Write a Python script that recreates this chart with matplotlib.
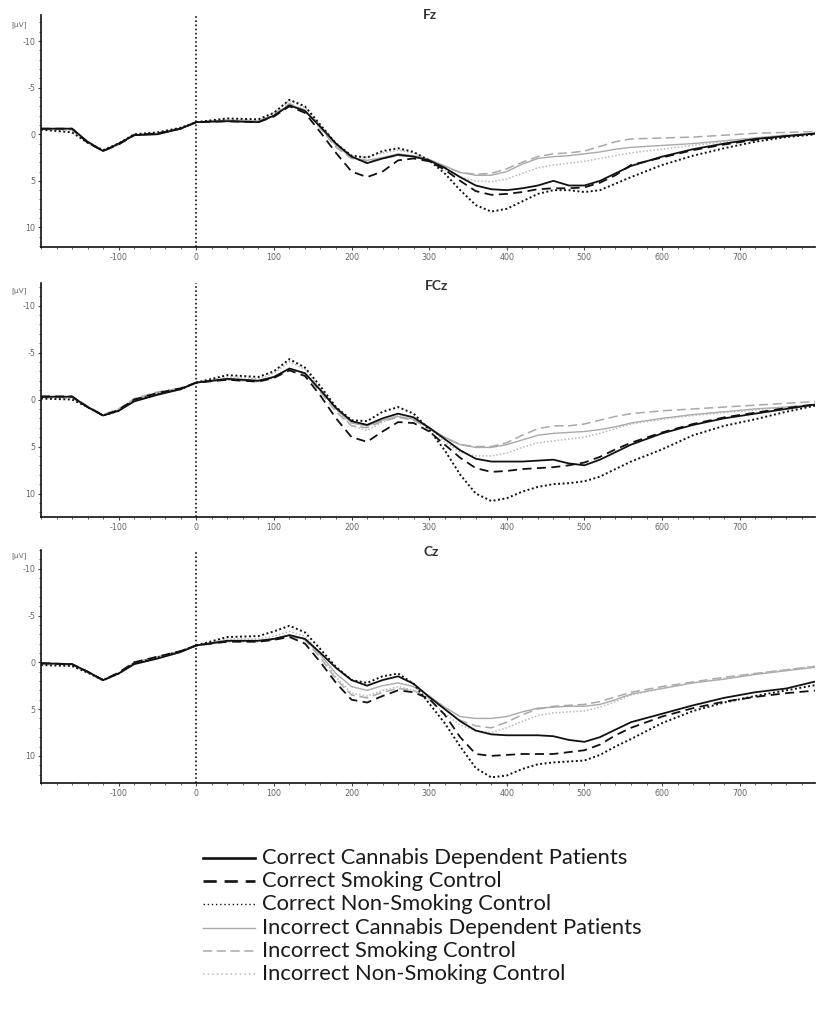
import matplotlib
matplotlib.use("Agg")
import matplotlib.pyplot as plt
from matplotlib.lines import Line2D
from matplotlib.ticker import MultipleLocator

# ---------------- data ----------------
time_ms = [-200, -160, -140, -120, -100, -80, -50, -20, 0, 40, 80, 100, 120,
           140, 160, 180, 200, 220, 240, 260, 280, 300, 320, 340, 360, 380, 400,
           420, 440, 460, 480, 500, 520, 540, 560, 600, 640, 680, 720, 760, 800]

channels = ["Fz", "FCz", "Cz"]
series_labels = ["Correct Cannabis Dependent Patients", "Correct Smoking Control",
                 "Correct Non-Smoking Control", "Incorrect Cannabis Dependent Patients",
                 "Incorrect Smoking Control", "Incorrect Non-Smoking Control"]

# Fz
fz_c_cdp = [-0.6, -0.6, 0.8, 1.8, 1.0, 0.1, 0.0, -0.6, -1.3, -1.4, -1.3, -2.0, -3.1,
            -2.5, -0.8, 1.0, 2.4, 3.1, 2.6, 2.2, 2.4, 2.8, 3.6, 4.6, 5.5, 5.9, 6.0,
            5.8, 5.5, 5.0, 5.5, 5.5, 5.0, 4.2, 3.4, 2.4, 1.6, 1.0, 0.5, 0.2, -0.1]
fz_c_sc = [-0.6, -0.6, 0.9, 1.8, 1.1, 0.1, -0.1, -0.6, -1.3, -1.4, -1.3, -1.9, -3.0,
           -2.3, -0.2, 2.0, 4.0, 4.6, 4.0, 2.8, 2.6, 2.9, 3.8, 5.0, 6.1, 6.5, 6.4,
           6.2, 5.9, 5.8, 5.8, 5.7, 5.2, 4.4, 3.3, 2.5, 1.7, 1.1, 0.6, 0.2, -0.1]
fz_c_nsc = [-0.5, -0.2, 0.9, 1.7, 1.0, 0.0, -0.2, -0.7, -1.3, -1.7, -1.6, -2.3, -3.7,
            -3.0, -1.0, 1.0, 2.3, 2.5, 1.8, 1.5, 1.9, 2.8, 4.2, 6.0, 7.6, 8.3, 8.0,
            7.2, 6.4, 6.0, 6.0, 6.2, 6.0, 5.3, 4.6, 3.3, 2.3, 1.5, 0.8, 0.3, 0.0]
fz_i_cdp = [-0.6, -0.6, 0.8, 1.8, 1.1, 0.1, 0.0, -0.6, -1.3, -1.5, -1.4, -2.0, -3.2,
            -2.6, -0.7, 1.2, 2.5, 2.8, 2.5, 2.1, 2.3, 2.7, 3.4, 4.1, 4.4, 4.4, 4.0,
            3.2, 2.6, 2.4, 2.3, 2.1, 1.9, 1.6, 1.4, 1.2, 1.0, 0.7, 0.4, 0.1, -0.1]
fz_i_sc = [-0.6, -0.5, 0.9, 1.8, 1.0, 0.0, -0.1, -0.7, -1.3, -1.5, -1.4, -2.1, -3.3,
           -2.6, -0.6, 1.4, 2.6, 2.9, 2.6, 2.3, 2.4, 2.8, 3.5, 4.1, 4.3, 4.2, 3.7,
           3.0, 2.4, 2.1, 2.0, 1.8, 1.3, 0.8, 0.5, 0.4, 0.3, 0.1, -0.1, -0.2, -0.3]
fz_i_nsc = [-0.5, -0.4, 0.9, 1.8, 1.1, 0.1, -0.1, -0.6, -1.3, -1.6, -1.5, -2.3, -3.6,
            -2.9, -0.9, 1.1, 2.3, 2.5, 2.0, 1.7, 2.0, 2.8, 3.8, 4.6, 5.0, 5.1, 4.8,
            4.2, 3.6, 3.3, 3.1, 2.9, 2.6, 2.3, 2.0, 1.6, 1.2, 0.8, 0.4, 0.1, -0.1]

# FCz
fcz_c_cdp = [-0.3, -0.3, 0.8, 1.7, 1.2, 0.2, -0.5, -1.1, -1.8, -2.2, -2.0, -2.4, -3.3,
             -2.8, -1.0, 0.9, 2.3, 2.7, 2.0, 1.5, 1.9, 3.0, 4.2, 5.4, 6.3, 6.6, 6.6,
             6.6, 6.5, 6.4, 6.8, 7.0, 6.4, 5.6, 4.8, 3.6, 2.7, 2.0, 1.5, 1.0, 0.5]
fcz_c_sc = [-0.3, -0.3, 0.8, 1.7, 1.1, 0.0, -0.7, -1.2, -1.8, -2.1, -1.9, -2.3, -3.1,
            -2.5, -0.4, 2.0, 4.0, 4.5, 3.4, 2.4, 2.5, 3.4, 4.8, 6.2, 7.3, 7.7, 7.6,
            7.4, 7.3, 7.2, 7.0, 6.7, 6.1, 5.3, 4.6, 3.5, 2.6, 1.9, 1.4, 0.9, 0.5]
fcz_c_nsc = [-0.1, 0.0, 0.8, 1.7, 1.2, 0.1, -0.6, -1.1, -1.8, -2.6, -2.4, -3.0, -4.3,
             -3.4, -1.4, 0.8, 2.2, 2.3, 1.3, 0.8, 1.5, 3.2, 5.4, 8.0, 10.0, 10.8, 10.5,
             9.8, 9.3, 9.0, 8.9, 8.7, 8.2, 7.4, 6.6, 5.3, 3.8, 2.8, 2.1, 1.3, 0.6]
fcz_i_cdp = [-0.3, -0.3, 0.8, 1.7, 1.2, 0.1, -0.6, -1.1, -1.8, -2.2, -2.0, -2.4, -3.3,
             -2.8, -1.0, 1.0, 2.5, 2.8, 2.2, 1.8, 2.1, 3.0, 4.0, 4.8, 5.1, 5.1, 4.8,
             4.3, 3.8, 3.6, 3.5, 3.4, 3.2, 2.9, 2.5, 2.0, 1.6, 1.3, 1.0, 0.8, 0.5]
fcz_i_sc = [-0.4, -0.4, 0.7, 1.6, 1.0, -0.1, -0.8, -1.2, -1.8, -2.1, -1.9, -2.3, -3.2,
            -2.7, -0.8, 1.3, 2.8, 3.0, 2.3, 1.9, 2.2, 3.1, 4.1, 4.8, 5.0, 5.0, 4.6,
            3.8, 3.1, 2.8, 2.8, 2.6, 2.2, 1.8, 1.5, 1.2, 1.0, 0.8, 0.6, 0.4, 0.2]
fcz_i_nsc = [-0.2, -0.1, 0.8, 1.7, 1.1, 0.1, -0.6, -1.1, -1.8, -2.4, -2.2, -2.8, -4.0,
             -3.2, -1.2, 1.0, 2.8, 3.3, 2.4, 1.6, 1.9, 3.0, 4.5, 5.6, 6.0, 6.0, 5.7,
             5.1, 4.6, 4.4, 4.2, 4.0, 3.6, 3.1, 2.6, 2.1, 1.7, 1.4, 1.1, 0.8, 0.5]

# Cz
cz_c_cdp = [0.1, 0.2, 1.0, 1.9, 1.2, 0.2, -0.4, -1.1, -1.8, -2.3, -2.3, -2.5, -2.9,
            -2.5, -1.0, 0.6, 1.9, 2.5, 1.9, 1.5, 2.3, 3.7, 5.0, 6.3, 7.3, 7.7, 7.8,
            7.8, 7.8, 7.9, 8.3, 8.5, 8.0, 7.2, 6.4, 5.5, 4.6, 3.8, 3.2, 2.8, 2.0]
cz_c_sc = [0.1, 0.2, 1.0, 1.9, 1.1, 0.0, -0.6, -1.2, -1.8, -2.2, -2.2, -2.4, -2.7,
           -2.0, 0.0, 2.2, 4.0, 4.3, 3.6, 3.0, 3.2, 3.9, 5.6, 8.0, 9.8, 10.0, 9.9,
           9.8, 9.8, 9.8, 9.6, 9.4, 8.8, 7.8, 7.0, 5.8, 4.9, 4.2, 3.7, 3.3, 3.0]
cz_c_nsc = [0.3, 0.4, 1.1, 1.9, 1.2, 0.1, -0.5, -1.2, -1.8, -2.7, -2.8, -3.3, -3.9,
            -3.2, -1.4, 0.5, 1.9, 2.2, 1.5, 1.2, 2.3, 4.4, 6.5, 9.0, 11.3, 12.3, 12.1,
            11.4, 10.9, 10.7, 10.6, 10.5, 9.9, 9.0, 8.2, 6.5, 5.2, 4.3, 3.6, 3.0, 2.4]
cz_i_cdp = [0.1, 0.2, 1.0, 1.9, 1.2, 0.2, -0.4, -1.1, -1.8, -2.3, -2.3, -2.5, -2.9,
            -2.5, -0.8, 1.2, 2.6, 3.0, 2.5, 2.2, 2.6, 3.6, 4.8, 5.8, 6.0, 6.0, 5.8,
            5.3, 4.9, 4.8, 4.7, 4.7, 4.5, 4.0, 3.4, 2.8, 2.2, 1.8, 1.3, 0.9, 0.5]
cz_i_sc = [0.2, 0.2, 1.1, 2.0, 1.2, 0.0, -0.6, -1.2, -1.8, -2.2, -2.2, -2.4, -2.8,
           -2.4, -0.5, 1.8, 3.5, 3.8, 3.2, 2.8, 3.0, 3.8, 5.0, 6.2, 6.8, 7.0, 6.4,
           5.6, 5.0, 4.7, 4.6, 4.5, 4.2, 3.7, 3.2, 2.6, 2.1, 1.6, 1.2, 0.8, 0.4]
cz_i_nsc = [0.2, 0.3, 1.1, 1.9, 1.2, 0.1, -0.5, -1.1, -1.8, -2.5, -2.5, -2.8, -3.3,
            -2.8, -0.9, 1.6, 3.3, 3.6, 3.0, 2.6, 3.0, 4.0, 5.5, 6.7, 7.3, 7.5, 7.0,
            6.3, 5.7, 5.4, 5.3, 5.2, 4.8, 4.2, 3.5, 2.8, 2.2, 1.7, 1.2, 0.8, 0.4]

panel_series = [
    [fz_c_cdp, fz_c_sc, fz_c_nsc, fz_i_cdp, fz_i_sc, fz_i_nsc],
    [fcz_c_cdp, fcz_c_sc, fcz_c_nsc, fcz_i_cdp, fcz_i_sc, fcz_i_nsc],
    [cz_c_cdp, cz_c_sc, cz_c_nsc, cz_i_cdp, cz_i_sc, cz_i_nsc],
]

x_ticks = [-100, 0, 100, 200, 300, 400, 500, 600, 700]
x_tick_labels = ["-100", "0", "100", "200", "300", "400", "500", "600", "700"]
y_ticks = [-10, -5, 0, 5, 10]
y_tick_labels = ["-10", "-5", "0", "5", "10"]

# ---------------- styles ----------------
W, H = 817, 1021
BLACK = "#111111"
GRAY = "#a9a9a9"
styles = [
    dict(color=BLACK, ls="-", lw=1.3),
    dict(color=BLACK, ls=(0, (5, 3)), lw=1.3),
    dict(color=BLACK, ls=(0, (1, 1.3)), lw=1.4),
    dict(color=GRAY, ls="-", lw=1.0),
    dict(color=GRAY, ls=(0, (6, 3)), lw=1.1),
    dict(color="#b8b8b8", ls=(0, (1, 1.3)), lw=1.1),
]

boxes = [(15, 247), (283, 517), (550, 783)]
ylims = [(12.1, -12.8), (12.5, -12.4), (12.9, -12.0)]
title_pos = [(430, 15), (437, 286), (431, 552)]
unit_pos = [(19, 25), (19, 291), (19, 556)]
left_px, right_px = 41, 815

fig = plt.figure(figsize=(W / 100, H / 100), dpi=100)
fig.patch.set_facecolor("white")

for i, ch in enumerate(channels):
    top, bot = boxes[i]
    ax = fig.add_axes([left_px / W, 1 - bot / H, (right_px - left_px) / W, (bot - top) / H])
    # incorrect (gray) first, correct (black) on top
    for k in [3, 4, 5, 0, 1, 2]:
        ax.plot(time_ms, panel_series[i][k], **styles[k], solid_capstyle="round")
    ax.axvline(0, color=BLACK, ls=(0, (1, 1.5)), lw=1.2)
    ax.set_xlim(-200, 797)
    ax.set_ylim(*ylims[i])
    for sp in ["top", "right"]:
        ax.spines[sp].set_visible(False)
    for sp in ["left", "bottom"]:
        ax.spines[sp].set_linewidth(1.2)
        ax.spines[sp].set_color(BLACK)
    ax.set_xticks(x_ticks)
    ax.set_xticklabels(x_tick_labels)
    ax.set_yticks(y_ticks)
    ax.set_yticklabels(y_tick_labels)
    ax.xaxis.set_minor_locator(MultipleLocator(20))
    ax.yaxis.set_minor_locator(MultipleLocator(1))
    ax.tick_params(axis="both", which="major", direction="out", length=2.5, width=0.8,
                   labelsize=5.8, labelcolor="#666666", pad=1.5, color="#444444")
    ax.tick_params(axis="both", which="minor", direction="out", length=1.5, width=0.6,
                   color="#444444")
    ax.patch.set_alpha(0)
    tx, ty = title_pos[i]
    fig.text(tx / W, 1 - ty / H, ch, ha="center", va="center", fontsize=10,
             fontweight="bold", family="Lato", color="#333333")
    ux, uy = unit_pos[i]
    fig.text(ux / W, 1 - uy / H, "[µV]", ha="center", va="center", fontsize=5.3,
             color="#666666")

# legend
legend_rows = [858, 881, 904, 928, 951, 974]
for k, lab in enumerate(series_labels):
    y = 1 - legend_rows[k] / H
    st = dict(styles[k])
    if k < 2:
        st["lw"] = 1.9
    if k == 2:
        st["lw"] = 1.0
        st["ls"] = (0, (1, 2))
    if k == 5:
        st["ls"] = (0, (1, 2))
    fig.add_artist(Line2D([203 / W, 255 / W], [y, y], transform=fig.transFigure, **st))
    fig.text(262 / W, y, lab, ha="left", va="center", fontsize=15.8, family="Lato",
             color="#1a1a1a")

fig.savefig("out.png", dpi=100, facecolor="white")
